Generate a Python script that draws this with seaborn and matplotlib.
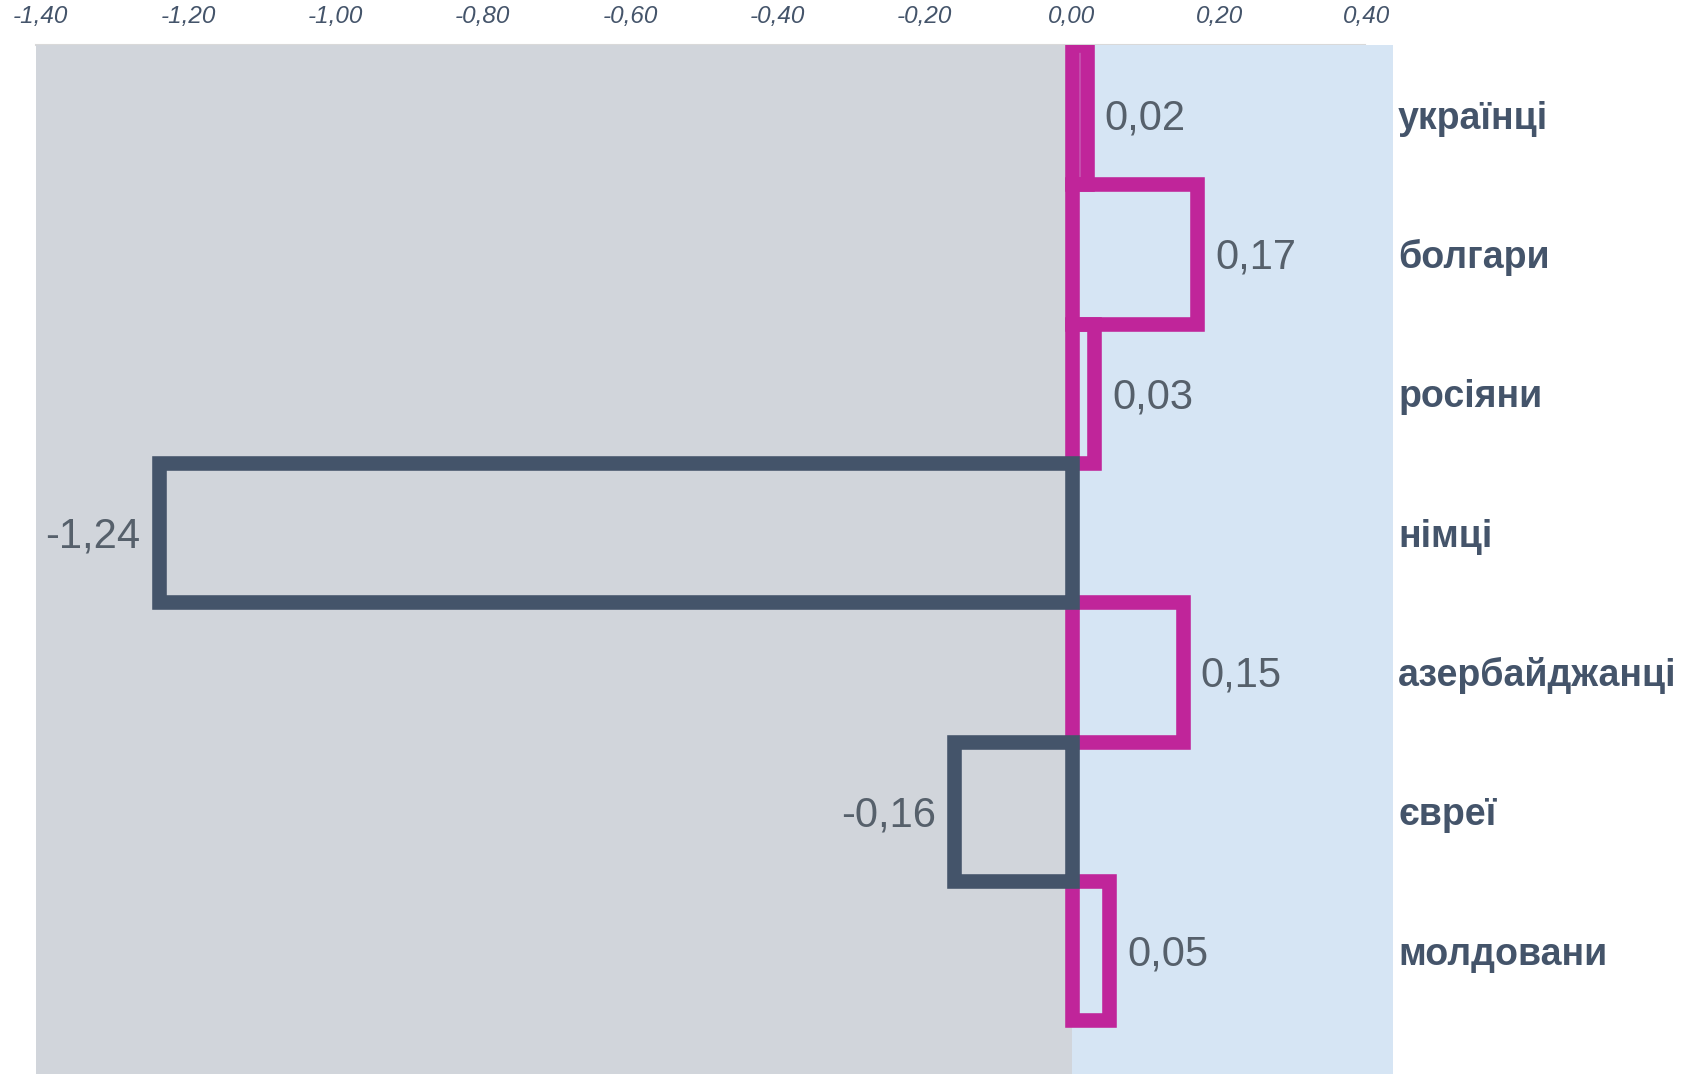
import matplotlib
matplotlib.use("Agg")
import matplotlib.pyplot as plt
import seaborn as sns
import pandas as pd
import numpy as np
from matplotlib.ticker import FixedLocator, FuncFormatter

categories = ["українці", "болгари", "росіяни", "німці", "азербайджанці", "євреї", "молдовани"]
values = [0.02, 0.17, 0.03, -1.24, 0.15, -0.16, 0.05]
x_ticks = [-1.40, -1.20, -1.00, -0.80, -0.60, -0.40, -0.20, 0.00, 0.20, 0.40]

POS = "#c0259a"
NEG = "#44546a"
TXT = "#44546a"

sns.set_theme(style="white")
plt.rcParams['font.family'] = ['Liberation Sans', 'DejaVu Sans']

df = pd.DataFrame({"group": categories, "value": values})
df["sign"] = np.where(df["value"] >= 0, "pos", "neg")

fig = plt.figure(figsize=(16.88, 10.74), dpi=100)
ax = fig.add_axes([35.5 / 1688, 0, (1392.5 - 35.5) / 1688, (1074 - 45) / 1074])

xmin, xmax = -1.407, 0.435
ax.axvspan(xmin, 0, color="#d1d5db", zorder=0, lw=0)
ax.axvspan(0, xmax, color="#d6e5f4", zorder=0, lw=0)
ax.axvline(0, color="#a9b9c9", lw=1, zorder=1)

sns.barplot(data=df, x="value", y="group", hue="sign",
            palette={"pos": POS, "neg": NEG}, fill=False, linewidth=10.5,
            width=1.0, dodge=False, legend=False, ax=ax, orient="h",
            order=categories)
for p in ax.patches:
    p.set_joinstyle("miter")
    p.set_zorder(3)

for i, v in enumerate(values):
    lab = f"{v:.2f}".replace(".", ",")
    off = 13 if v >= 0 else -13
    ax.annotate(lab, (v, i), xytext=(off, -10.7), textcoords="offset points",
                ha="left" if v >= 0 else "right", va="baseline",
                fontsize=30, color="#56606b", zorder=4)

ax.set_xlim(xmin, xmax)
ax.set_ylim(6.886, -0.5)

ax.xaxis.tick_top()
ax.xaxis.set_major_locator(FixedLocator(x_ticks))
ax.xaxis.set_major_formatter(FuncFormatter(lambda x, p: f"{x:.2f}".replace(".", ",")))
ax.tick_params(axis="x", length=0, pad=12, labelsize=17.5, labelcolor=TXT)
for t in ax.get_xticklabels():
    t.set_fontstyle("italic")

ax.yaxis.tick_right()
ax.tick_params(axis="y", length=0, pad=4, labelsize=27, labelcolor=TXT)
for t in ax.get_yticklabels():
    t.set_fontweight("bold")
ax.set_xlabel("")
ax.set_ylabel("")

for s in ["left", "right", "bottom"]:
    ax.spines[s].set_visible(False)
ax.spines["top"].set_color("#d9d9d9")
ax.spines["top"].set_linewidth(1.5)
ax.spines["top"].set_bounds(xmin, 0.397)

fig.savefig("out.png", dpi=100)
